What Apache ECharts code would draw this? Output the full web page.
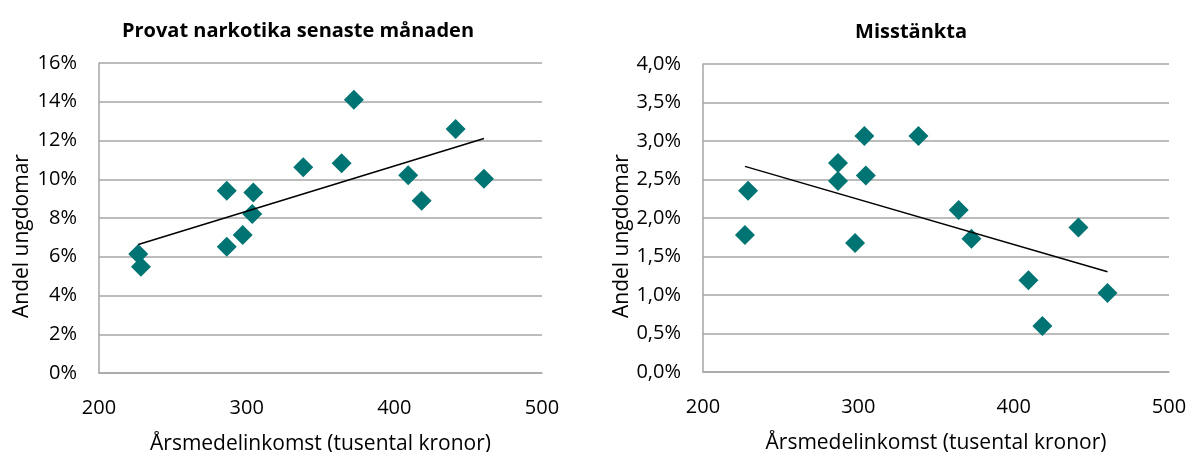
<!DOCTYPE html>
<html>
<head>
<meta charset="utf-8">
<script src="https://cdn.jsdelivr.net/npm/echarts@6/dist/echarts.min.js"></script>
<style>
html,body{margin:0;padding:0;background:#fff;}
#c{width:1188px;height:452px;}
</style>
</head>
<body>
<div id="c"></div>
<script>
// Data
var titles = ['Provat narkotika senaste månaden', 'Misstänkta'];
var xAxisName = 'Årsmedelinkomst (tusental kronor)';
var yAxisName = 'Andel ungdomar';
var xTicks = [200, 300, 400, 500];

// Left chart: income (thousand SEK) vs share (%)
var incomeA = [226.6, 228.4, 286.5, 286.5, 297.3, 304.5, 303.8, 338.3, 364.3, 372.6, 409.4, 418.5, 441.5, 460.7];
var shareA  = [6.14, 5.48, 6.52, 9.41, 7.12, 9.31, 8.21, 10.62, 10.83, 14.10, 10.21, 8.89, 12.60, 10.02];
var yTicksA = [0, 2, 4, 6, 8, 10, 12, 14, 16];

// Right chart
var incomeB = [229.0, 227.0, 286.9, 286.9, 297.9, 303.9, 304.8, 338.7, 364.6, 372.8, 409.5, 418.5, 441.7, 460.4];
var shareB  = [2.355, 1.779, 2.714, 2.480, 1.675, 3.065, 2.553, 3.065, 2.104, 1.731, 1.190, 0.597, 1.878, 1.026];
var yTicksB = [0, 0.5, 1, 1.5, 2, 2.5, 3, 3.5, 4];

function pairs(xs, ys){ return xs.map(function(x,i){ return [x, ys[i]]; }); }
// Linear least-squares trend line spanning the data's x range (as in the original)
function trend(xs, ys){
  var n = xs.length, mx = 0, my = 0;
  for (var i=0;i<n;i++){ mx += xs[i]; my += ys[i]; }
  mx /= n; my /= n;
  var sxy = 0, sxx = 0;
  for (var j=0;j<n;j++){ sxy += (xs[j]-mx)*(ys[j]-my); sxx += (xs[j]-mx)*(xs[j]-mx); }
  var b = sxy/sxx, a = my - b*mx;
  var x0 = Math.min.apply(null, xs), x1 = Math.max.apply(null, xs);
  return [[x0, a + b*x0], [x1, a + b*x1]];
}

var FONT = 'Open Sans';
var gridColor = '#a6a6a6';
var markColor = '#007373';

function xAxis(gi){
  return {
    type: 'value', gridIndex: gi, min: xTicks[0], max: xTicks[xTicks.length-1], interval: 100,
    name: xAxisName, nameLocation: 'middle', nameGap: 61, nameMoveOverlap: false,
    nameTextStyle: {fontFamily: FONT, fontSize: 21, color: '#000'},
    axisLine: {show: true, lineStyle: {color: gridColor, width: 1.5}},
    axisTick: {show: false},
    splitLine: {show: false},
    axisLabel: {fontFamily: FONT, fontSize: 20, color: '#000', margin: 25}
  };
}
function yAxis(gi, ticks, fmt, gap){
  return {
    type: 'value', gridIndex: gi, min: ticks[0], max: ticks[ticks.length-1], interval: ticks[1]-ticks[0],
    name: yAxisName, nameLocation: 'middle', nameGap: gap, nameMoveOverlap: false,
    nameTextStyle: {fontFamily: FONT, fontSize: 21, color: '#000', padding: [0, 36, 0, 0]},
    axisLine: {show: true, lineStyle: {color: gridColor, width: 1.5}},
    axisTick: {show: false},
    splitLine: {show: true, lineStyle: {color: gridColor, width: 1.5}},
    axisLabel: {fontFamily: FONT, fontSize: 20, color: '#000', margin: 22, formatter: fmt}
  };
}

var chart = echarts.init(document.getElementById('c'), null, {renderer: 'canvas'});
chart.setOption({
  animation: false,
  backgroundColor: '#fff',
  title: [
    {text: titles[0], left: 293, top: 16, textAlign: 'center',
     textStyle: {fontFamily: FONT, fontSize: 20, fontWeight: 'bold', color: '#000'}},
    {text: titles[1], left: 906, top: 17, textAlign: 'center',
     textStyle: {fontFamily: FONT, fontSize: 20, fontWeight: 'bold', color: '#000'}}
  ],
  grid: [
    {left: 99, right: 646, top: 63, height: 310, outerBoundsMode: 'none', containLabel: false},
    {left: 703, right: 19, top: 64, height: 308, outerBoundsMode: 'none', containLabel: false}
  ],
  xAxis: [xAxis(0), xAxis(1)],
  yAxis: [
    yAxis(0, yTicksA, function(v){ return v + '%'; }, 66),
    yAxis(1, yTicksB, function(v){ return v.toFixed(1).replace('.', ',') + '%'; }, 70)
  ],
  series: [
    {type: 'scatter', xAxisIndex: 0, yAxisIndex: 0, data: pairs(incomeA, shareA),
     symbol: 'diamond', symbolSize: 20, itemStyle: {color: markColor, opacity: 1}, z: 3},
    {type: 'line', xAxisIndex: 0, yAxisIndex: 0, data: trend(incomeA, shareA),
     symbol: 'none', lineStyle: {color: '#000', width: 1.5}, z: 4},
    {type: 'scatter', xAxisIndex: 1, yAxisIndex: 1, data: pairs(incomeB, shareB),
     symbol: 'diamond', symbolSize: 20, itemStyle: {color: markColor, opacity: 1}, z: 3},
    {type: 'line', xAxisIndex: 1, yAxisIndex: 1, data: trend(incomeB, shareB),
     symbol: 'none', lineStyle: {color: '#000', width: 1.5}, z: 4}
  ]
});
</script>
</body>
</html>
